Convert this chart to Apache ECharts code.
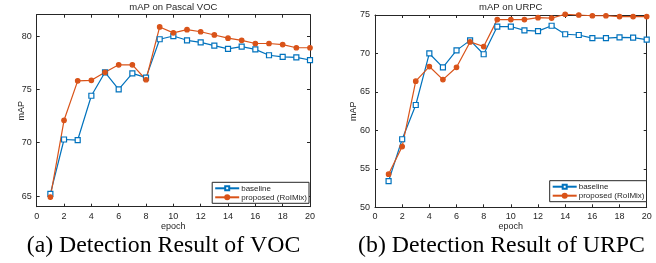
<!DOCTYPE html>
<html>
<head>
<meta charset="utf-8">
<script src="https://cdn.jsdelivr.net/npm/echarts@6/dist/echarts.min.js"></script>
<style>
  html, body { margin: 0; padding: 0; background: #fff; }
  #chart { width: 656px; height: 263px; }
</style>
</head>
<body>
<div id="chart"></div>
<script>
// epochs 1..20
const epochs = [1, 2, 3, 4, 5, 6, 7, 8, 9, 10, 11, 12, 13, 14, 15, 16, 17, 18, 19, 20];

// mAP on Pascal VOC
const vocBaseline = [65.2, 70.3, 70.25, 74.4, 76.6, 75.0, 76.5, 76.1, 79.7, 80.0, 79.6, 79.4, 79.1, 78.8, 79.0, 78.75, 78.2, 78.05, 78.0, 77.75];
const vocProposed = [64.9, 72.1, 75.8, 75.85, 76.6, 77.3, 77.3, 75.9, 80.85, 80.3, 80.6, 80.4, 80.1, 79.8, 79.6, 79.3, 79.3, 79.2, 78.9, 78.9];

// mAP on URPC
const urpcBaseline = [53.4, 58.85, 63.3, 70.0, 68.2, 70.4, 71.7, 69.9, 73.5, 73.5, 73.0, 72.9, 73.6, 72.5, 72.4, 72.0, 72.0, 72.1, 72.05, 71.8];
const urpcProposed = [54.3, 57.9, 66.4, 68.3, 66.6, 68.2, 71.5, 70.9, 74.4, 74.4, 74.4, 74.65, 74.6, 75.1, 75.0, 74.9, 74.9, 74.8, 74.8, 74.8];

const vocTicks = [65, 70, 75, 80];
const urpcTicks = [50, 55, 60, 65, 70, 75];

const blue = '#0072BD';
const orange = '#D95319';
const ink = '#262626';
const sans = 'Liberation Sans, Arial, sans-serif';
const serif = '23.8px "Liberation Serif", "Times New Roman", serif';

function pairs(vals) {
  return epochs.map((e, i) => [e, vals[i]]);
}

function xAxes(gridIndex) {
  const base = {
    type: 'value', gridIndex: gridIndex, min: 0, max: 20, interval: 2,
    axisLine: { show: true, onZero: false, lineStyle: { color: ink, width: 1 } },
    axisTick: { show: true, inside: true, length: 3, lineStyle: { color: ink } },
    splitLine: { show: false }
  };
  return [
    Object.assign({}, base, {
      position: 'bottom',
      axisLabel: { color: ink, fontSize: 9, fontFamily: sans, margin: 5 },
      name: 'epoch', nameLocation: 'middle', nameGap: 15, nameMoveOverlap: false,
      nameTextStyle: { color: ink, fontSize: 9, fontFamily: sans }
    }),
    Object.assign({}, base, { position: 'top', axisLabel: { show: false } })
  ];
}

function yAxes(gridIndex, min, max, ticks, gap) {
  const base = {
    type: 'value', gridIndex: gridIndex, min: min, max: max,
    axisLine: { show: true, onZero: false, lineStyle: { color: ink, width: 1 } },
    axisTick: { show: true, inside: true, length: 3, customValues: ticks, lineStyle: { color: ink } },
    splitLine: { show: false }
  };
  return [
    Object.assign({}, base, {
      position: 'left',
      axisLabel: { color: ink, fontSize: 9, fontFamily: sans, margin: 5, customValues: ticks },
      name: 'mAP', nameLocation: 'middle', nameGap: gap, nameRotate: 90, nameMoveOverlap: false,
      nameTextStyle: { color: ink, fontSize: 9, fontFamily: sans }
    }),
    Object.assign({}, base, { position: 'right', axisLabel: { show: false } })
  ];
}

function lineSeries(name, vals, axisIdx, color, symbol, size, filled) {
  return {
    name: name, type: 'line', data: pairs(vals),
    xAxisIndex: axisIdx, yAxisIndex: axisIdx,
    symbol: symbol, symbolSize: size, showSymbol: true, clip: false,
    lineStyle: { color: color, width: 1.2 },
    itemStyle: { color: filled ? color : '#fff', borderColor: color, borderWidth: 1.2 },
    emphasis: { disabled: true },
    animation: false
  };
}

function legendAt(right, top) {
  return {
    orient: 'vertical', right: right, top: top,
    data: ['baseline', 'proposed (RoIMix)'],
    itemWidth: 24, itemHeight: 5, itemGap: 1,
    padding: [2, 2, 2, 2],
    backgroundColor: '#fff', borderColor: ink, borderWidth: 1,
    textStyle: { color: ink, fontSize: 8, fontFamily: sans, padding: [0, 0, 0, -3] },
    selectedMode: false
  };
}

const chart = echarts.init(document.getElementById('chart'), null, { renderer: 'canvas' });

chart.setOption({
  animation: false,
  backgroundColor: '#fff',
  grid: [
    { left: 36.7, top: 14.7, width: 273.3, height: 192 },
    { left: 375, top: 15, width: 271.7, height: 192.3 }
  ],
  // axes 0/1: left grid bottom/top, 2/3: right grid
  xAxis: xAxes(0).concat(xAxes(1)),
  yAxis: yAxes(0, 64, 82, vocTicks, 11).concat(yAxes(1, 50, 75, urpcTicks, 17)),
  legend: [legendAt(347, 182.3), legendAt(9.5, 180.7)],
  series: [
    lineSeries('baseline', vocBaseline, 0, blue, 'rect', 5, false),
    lineSeries('proposed (RoIMix)', vocProposed, 0, orange, 'circle', 4.5, true),
    lineSeries('baseline', urpcBaseline, 2, blue, 'rect', 5, false),
    lineSeries('proposed (RoIMix)', urpcProposed, 2, orange, 'circle', 4.5, true)
  ],
  graphic: [
    { type: 'text', x: 173.3, y: 7.5, style: { text: 'mAP on Pascal VOC', fill: ink, font: '9.5px ' + sans, textAlign: 'center', textVerticalAlign: 'middle' } },
    { type: 'text', x: 510.8, y: 7.5, style: { text: 'mAP on URPC', fill: ink, font: '9.5px ' + sans, textAlign: 'center', textVerticalAlign: 'middle' } },
    { type: 'text', x: 163.5, y: 258, style: { text: '(a) Detection Result of VOC', fill: '#000', font: serif, textAlign: 'center', textVerticalAlign: 'bottom' } },
    { type: 'text', x: 501.5, y: 258, style: { text: '(b) Detection Result of URPC', fill: '#000', font: serif, textAlign: 'center', textVerticalAlign: 'bottom' } }
  ]
});
</script>
</body>
</html>
